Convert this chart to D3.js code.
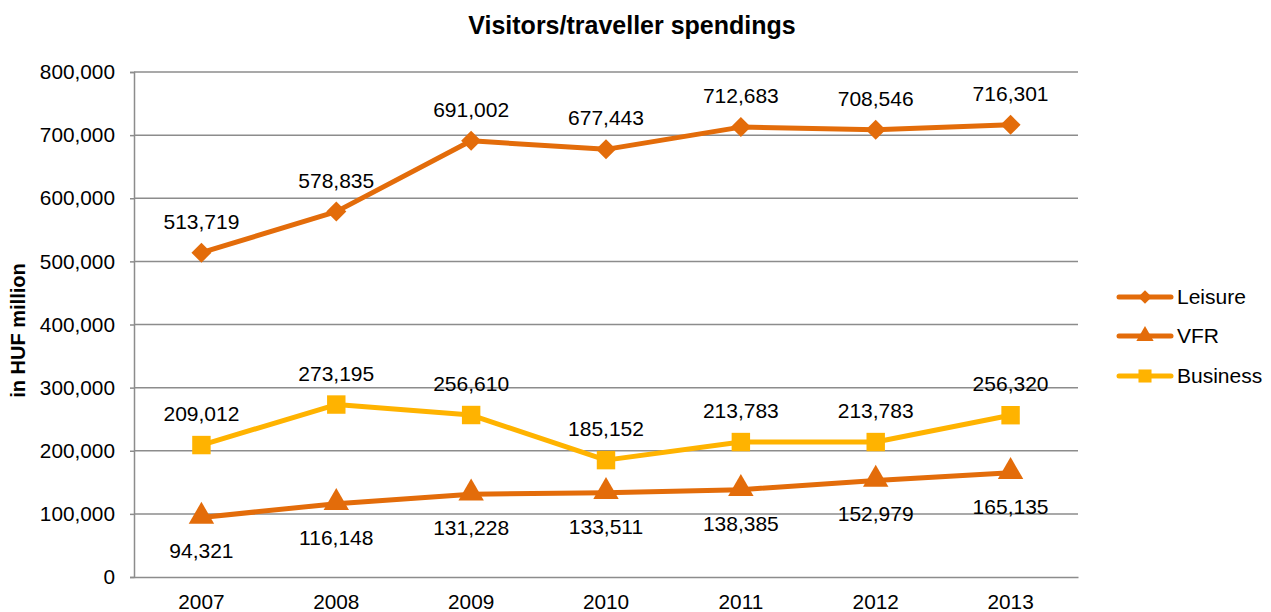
<!DOCTYPE html>
<html>
<head>
<meta charset="utf-8">
<script src="https://cdn.jsdelivr.net/npm/d3@7"></script>
<style>
  html, body { margin: 0; padding: 0; background: #fff; }
  svg { display: block; font-family: "Liberation Sans", Arial, sans-serif; }
</style>
</head>
<body>
<svg id="chart" width="1271" height="612"></svg>
<script>
// Spending by purpose of visit, HUF million
const years = ["2007", "2008", "2009", "2010", "2011", "2012", "2013"];
const leisure = [513719, 578835, 691002, 677443, 712683, 708546, 716301];
const vfr = [94321, 116148, 131228, 133511, 138385, 152979, 165135];
const business = [209012, 273195, 256610, 185152, 213783, 213783, 256320];
const yTicks = [0, 100000, 200000, 300000, 400000, 500000, 600000, 700000, 800000];

const series = [
  { name: "Leisure", values: leisure, color: "#E36C0A", marker: "diamond", labelPos: "above" },
  { name: "VFR", values: vfr, color: "#E36C0A", marker: "triangle", labelPos: "below" },
  { name: "Business", values: business, color: "#FFB300", marker: "square", labelPos: "above" }
];

const svg = d3.select("#chart");
const plot = { left: 134, right: 1078, top: 72, bottom: 577 };
const FONT = "Liberation Sans, Arial, sans-serif";

const x = d3.scaleBand().domain(years).range([plot.left, plot.right]);
const y = d3.scaleLinear().domain([0, 800000]).range([plot.bottom, plot.top]);
const fmt = d3.format(",");
const cx = d => x(d) + x.bandwidth() / 2;

// Title
svg.append("text")
  .attr("x", 632).attr("y", 34)
  .attr("text-anchor", "middle")
  .attr("font-size", 25).attr("font-weight", "bold")
  .attr("fill", "#000")
  .text("Visitors/traveller spendings");

// Horizontal gridlines
svg.append("g")
  .selectAll("line")
  .data(yTicks.slice(1))
  .join("line")
  .attr("x1", plot.left).attr("x2", plot.right)
  .attr("y1", d => y(d)).attr("y2", d => y(d))
  .attr("stroke", "#8c8c8c").attr("stroke-width", 1.5);

// Y axis
const yAxis = svg.append("g")
  .attr("transform", `translate(${plot.left},0)`)
  .call(d3.axisLeft(y).tickValues(yTicks).tickFormat(fmt).tickSize(4).tickPadding(15));
yAxis.select(".domain").attr("stroke", "#8c8c8c").attr("stroke-width", 1.5);
yAxis.selectAll(".tick line").attr("stroke", "#8c8c8c").attr("stroke-width", 1.5);
yAxis.selectAll(".tick text")
  .attr("font-size", 20.8).attr("fill", "#000")
  .attr("font-family", FONT);

// X axis
const xAxis = svg.append("g")
  .attr("transform", `translate(0,${plot.bottom})`)
  .call(d3.axisBottom(x).tickSize(0).tickPadding(17));
xAxis.select(".domain").attr("stroke", "#8c8c8c").attr("stroke-width", 1.5);
xAxis.selectAll(".tick text")
  .attr("font-size", 20.8).attr("fill", "#000")
  .attr("font-family", FONT);

// Y axis title
svg.append("text")
  .attr("transform", `translate(25,${(plot.top + plot.bottom) / 2 + 6}) rotate(-90)`)
  .attr("text-anchor", "middle")
  .attr("font-size", 20).attr("font-weight", "bold")
  .text("in HUF million");

// Marker shapes
const symbolFor = {
  diamond: d3.symbol().type(d3.symbolSquare).size(200),
  triangle: d3.symbol().type(d3.symbolTriangle).size(280),
  square: d3.symbol().type(d3.symbolSquare).size(340)
};
function drawMarker(g, kind, px, py, color) {
  const p = g.append("path")
    .attr("d", symbolFor[kind]())
    .attr("fill", color);
  if (kind === "diamond") p.attr("transform", `translate(${px},${py}) rotate(45)`);
  else if (kind === "triangle") p.attr("transform", `translate(${px},${py - 1})`);
  else p.attr("transform", `translate(${px},${py})`);
}

const line = d3.line().x((d, i) => cx(years[i])).y(d => y(d));

series.forEach(s => {
  const g = svg.append("g");
  g.append("path")
    .datum(s.values)
    .attr("d", line)
    .attr("fill", "none")
    .attr("stroke", s.color)
    .attr("stroke-width", 5)
    .attr("stroke-linejoin", "round");
  s.values.forEach((v, i) => drawMarker(g, s.marker, cx(years[i]), y(v), s.color));
  g.selectAll("text.lbl")
    .data(s.values)
    .join("text")
    .attr("class", "lbl")
    .attr("x", (d, i) => cx(years[i]))
    .attr("y", d => s.labelPos === "above" ? y(d) - 24 : y(d) + 41)
    .attr("text-anchor", "middle")
    .attr("font-size", 21)
    .attr("fill", "#000")
    .text(d => fmt(d));
});

// Legend
const legend = svg.append("g");
const legendY = [297, 336, 376];
series.forEach((s, i) => {
  const ly = legendY[i];
  legend.append("line")
    .attr("x1", 1119).attr("x2", 1171)
    .attr("y1", ly).attr("y2", ly)
    .attr("stroke", s.color).attr("stroke-width", 5).attr("stroke-linecap", "round");
  const sym = { diamond: 90, triangle: 130, square: 170 }[s.marker];
  const p = legend.append("path")
    .attr("d", d3.symbol().type(s.marker === "triangle" ? d3.symbolTriangle : d3.symbolSquare).size(sym)())
    .attr("fill", s.color);
  p.attr("transform", s.marker === "diamond" ? `translate(1145,${ly}) rotate(45)` : `translate(1145,${ly})`);
  legend.append("text")
    .attr("x", 1177).attr("y", ly + 7)
    .attr("font-size", 21)
    .attr("fill", "#000")
    .text(s.name);
});
</script>
</body>
</html>
